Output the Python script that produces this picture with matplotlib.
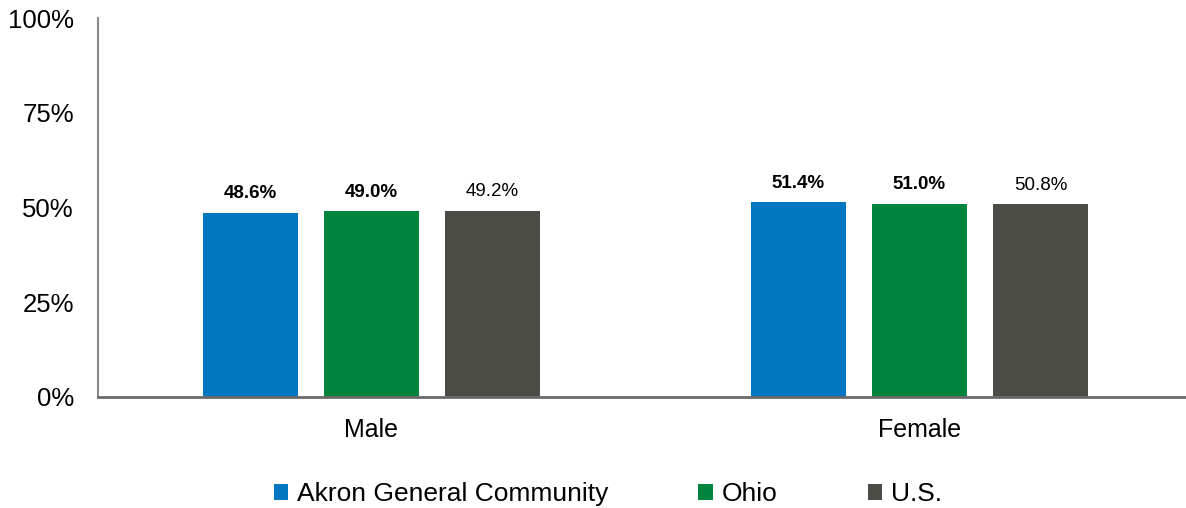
import matplotlib
matplotlib.use("Agg")
import matplotlib.pyplot as plt
from matplotlib.patches import Patch
import numpy as np

plt.rcParams['font.family'] = ['Liberation Sans', 'DejaVu Sans']

categories = ["Male", "Female"]
series_names = ["Akron General Community", "Ohio", "U.S."]
akron = [48.6, 51.4]
ohio = [49.0, 51.0]
us = [49.2, 50.8]
yticks = [0, 25, 50, 75, 100]
ytick_labels = ["0%", "25%", "50%", "75%", "100%"]

colors = ["#0077C0", "#00843D", "#4C4C46"]
label_weights = ["bold", "bold", "normal"]

W, H = 1186, 508
fig = plt.figure(figsize=(W / 100, H / 100), dpi=100)
ax = fig.add_axes([97.5 / W, 1 - 397 / H, 1096 / W, 379 / H])

x = np.arange(len(categories))
width = 0.174
step = 0.221
series = [akron, ohio, us]
for i, (vals, col, wt) in enumerate(zip(series, colors, label_weights)):
    pos = x + (i - 1) * step
    bars = ax.bar(pos, vals, width=width, color=col, label=series_names[i], zorder=2)
    for b, v in zip(bars, vals):
        ax.annotate(f"{v:.1f}%", (b.get_x() + b.get_width() / 2, v),
                    xytext=(0, 10.5), textcoords="offset points",
                    ha="center", va="baseline", fontsize=13.5,
                    fontweight=wt, color="black")

ax.set_xlim(-0.5, 1.5)
ax.set_ylim(0, 100)
ax.set_yticks(yticks)
ax.set_yticklabels(ytick_labels)
ax.set_xticks(x)
ax.set_xticklabels(categories)
ax.tick_params(axis="y", length=0, pad=17, labelsize=18.5)
ax.tick_params(axis="x", length=0, pad=15, labelsize=18)

for s in ["top", "right"]:
    ax.spines[s].set_visible(False)
ax.spines["left"].set_color("#8a8a8a")
ax.spines["left"].set_linewidth(1.5)
ax.spines["bottom"].set_color("#6a6a6a")
ax.spines["bottom"].set_linewidth(2)

handles = [Patch(facecolor=c, edgecolor="none") for c in colors]
fig.legend(handles, series_names, loc="center", bbox_to_anchor=(608 / W, 1 - 494 / H),
           ncol=3, frameon=False, fontsize=19, handlelength=0.55, handleheight=0.55,
           handletextpad=0.35, columnspacing=3.4, borderpad=0)

fig.savefig("out.png", dpi=100)
